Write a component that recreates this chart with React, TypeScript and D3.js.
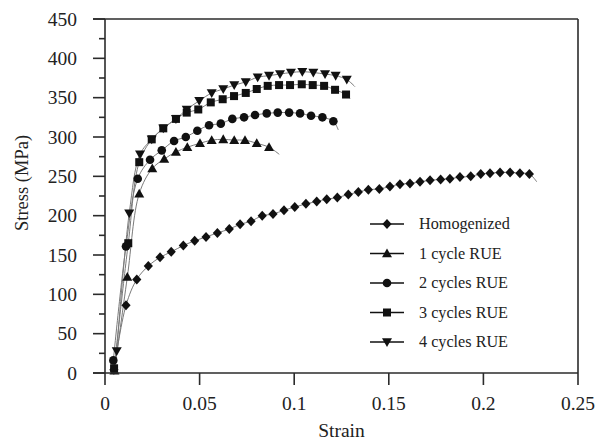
import React from "react";
import * as d3 from "d3";

const seriesNames = ["Homogenized", "1 cycle RUE", "2 cycles RUE", "3 cycles RUE", "4 cycles RUE"];
const markerShapes = ["diamond", "triangle", "circle", "square", "triangleDown"];

const homStrain = [0.0047,0.0111,0.0168,0.0229,0.0291,0.0350,0.0414,0.0474,0.0534,0.0594,0.0657,0.0714,0.0772,0.0831,0.0888,0.0946,0.1003,0.1062,0.1119,0.1172,0.1228,0.1286,0.1339,0.1392,0.1450,0.1506,0.1559,0.1612,0.1665,0.1718,0.1774,0.1823,0.1876,0.1933,0.1986,0.2035,0.2088,0.2141,0.2193,0.2243,0.2282];
const homStress = [4,86,119,136,147,154,162,168,173,178,183,189,193,200,202,207,211,215,218,221,223,227,230,233,234,237,240,241,243,245,246,247,249,250,253,254,255,255,254,253,243];

const c1Strain = [0.0050,0.0118,0.0181,0.0250,0.0313,0.0375,0.0435,0.0502,0.0564,0.0625,0.0683,0.0740,0.0802,0.0867,0.0921];
const c1Stress = [3,122,228,260,272,281,287,292,296,297,296,296,292,287,278];

const c2Strain = [0.0044,0.0111,0.0173,0.0238,0.0300,0.0365,0.0427,0.0488,0.0550,0.0612,0.0673,0.0735,0.0793,0.0855,0.0913,0.0973,0.1031,0.1089,0.1149,0.1207,0.1233];
const c2Stress = [16,161,247,271,283,295,300,308,315,317,323,325,328,330,331,331,330,327,325,320,309];

const c3Strain = [0.0048,0.0123,0.0181,0.0247,0.0308,0.0375,0.0432,0.0493,0.0559,0.0622,0.0682,0.0744,0.0802,0.0860,0.0920,0.0978,0.1040,0.1098,0.1158,0.1216,0.1274,0.1295];
const c3Stress = [6,165,268,297,311,323,331,335,344,348,352,356,361,365,366,366,367,366,365,360,354,349];

const c4Strain = [0.0062,0.0128,0.0185,0.0247,0.0308,0.0375,0.0432,0.0498,0.0564,0.0625,0.0683,0.0744,0.0807,0.0867,0.0925,0.0983,0.1043,0.1101,0.1163,0.1219,0.1278,0.1321];
const c4Stress = [28,203,278,297,311,323,335,346,356,361,366,370,376,378,380,382,383,382,380,378,373,364];

const xTicks = [0, 0.05, 0.1, 0.15, 0.2, 0.25];
const xTickLabels = ["0", "0.05", "0.1", "0.15", "0.2", "0.25"];
const yTicks = [0, 50, 100, 150, 200, 250, 300, 350, 400, 450];
const yMinorTicks = [25, 75, 125, 175, 225, 275, 325, 375, 425];

const W = 597, H = 440;
const L = 105, R = 578, T = 19, B = 373;
const FONT = "'Liberation Serif', 'Times New Roman', serif";
const AXC = "#2b2b2b";

function Marker({ shape, x, y }: { shape: string; x: number; y: number }) {
  const f = "#111";
  if (shape === "diamond") {
    return <path d={`M${x},${y - 5}L${x + 4.6},${y}L${x},${y + 5}L${x - 4.6},${y}Z`} fill={f} />;
  }
  if (shape === "triangle") {
    return <path d={`M${x},${y - 5}L${x + 5},${y + 3.8}L${x - 5},${y + 3.8}Z`} fill={f} />;
  }
  if (shape === "triangleDown") {
    return <path d={`M${x},${y + 5}L${x + 5},${y - 3.8}L${x - 5},${y - 3.8}Z`} fill={f} />;
  }
  if (shape === "square") {
    return <rect x={x - 4} y={y - 4} width={8} height={8} fill={f} />;
  }
  return <circle cx={x} cy={y} r={4.3} fill={f} />;
}

export default function App() {
  const x = d3.scaleLinear().domain([0, 0.25]).range([L, R]);
  const y = d3.scaleLinear().domain([0, 450]).range([B, T]);
  const allStrain = [homStrain, c1Strain, c2Strain, c3Strain, c4Strain];
  const allStress = [homStress, c1Stress, c2Stress, c3Stress, c4Stress];
  const series = allStrain.map((s, i) => s.map((v, j) => [v, allStress[i][j]] as [number, number]));
  const line = d3
    .line<[number, number]>()
    .x((d) => x(d[0]))
    .y((d) => y(d[1]))
    .curve(d3.curveCatmullRom.alpha(0.5));

  const legY = (i: number) => 224 + 29.5 * i;

  return (
    <svg width={W} height={H} style={{ position: "absolute", left: 0, top: 0, background: "#fff" }} fontFamily={FONT}>
      <rect x={0} y={0} width={W} height={H} fill="#fff" />
      {series.map((pts, i) => (
        <path key={"l" + i} d={line(pts) || ""} fill="none" stroke="#7a7a7a" strokeWidth={1} />
      ))}
      {series.map((pts, i) =>
        pts.slice(0, pts.length - 1).map((d, j) => (
          <Marker key={`m${i}-${j}`} shape={markerShapes[i]} x={x(d[0])} y={y(d[1])} />
        ))
      )}
      <line x1={L} y1={T} x2={L} y2={B} stroke={AXC} strokeWidth={1.6} />
      <line x1={L - 12} y1={B} x2={R} y2={B} stroke={AXC} strokeWidth={1.6} />
      <line x1={L - 12} y1={T} x2={R} y2={T} stroke={AXC} strokeWidth={1.6} />
      <line x1={R} y1={T} x2={R} y2={B} stroke={AXC} strokeWidth={1.6} />
      {yTicks.map((t) => (
        <g key={"yt" + t}>
          <line x1={L - 12} x2={L} y1={y(t)} y2={y(t)} stroke={AXC} strokeWidth={1.6} />
          <text x={77} y={y(t)} dy="0.35em" textAnchor="end" fontSize={19.5} fill="#222">
            {t}
          </text>
        </g>
      ))}
      {yMinorTicks.map((t) => (
        <line key={"ym" + t} x1={L - 6} x2={L} y1={y(t)} y2={y(t)} stroke={AXC} strokeWidth={1.6} />
      ))}
      {xTicks.map((t, i) => (
        <g key={"xt" + t}>
          <line x1={x(t)} x2={x(t)} y1={B} y2={B + 12} stroke={AXC} strokeWidth={1.6} />
          <text x={x(t)} y={410} textAnchor="middle" fontSize={19.5} fill="#222">
            {xTickLabels[i]}
          </text>
        </g>
      ))}
      <text x={(L + R) / 2} y={437} textAnchor="middle" fontSize={19.5} fill="#222">
        Strain
      </text>
      <text transform={`translate(28,${183}) rotate(-90)`} textAnchor="middle" fontSize={18.5} fill="#222">
        Stress (MPa)
      </text>
      {seriesNames.map((n, i) => (
        <g key={"lg" + i}>
          <line x1={370} x2={404} y1={legY(i)} y2={legY(i)} stroke="#111" strokeWidth={1.5} />
          <Marker shape={markerShapes[i]} x={387} y={legY(i)} />
          <text x={419} y={legY(i)} dy="0.33em" fontSize={16.2} fill="#222">
            {n}
          </text>
        </g>
      ))}
    </svg>
  );
}
